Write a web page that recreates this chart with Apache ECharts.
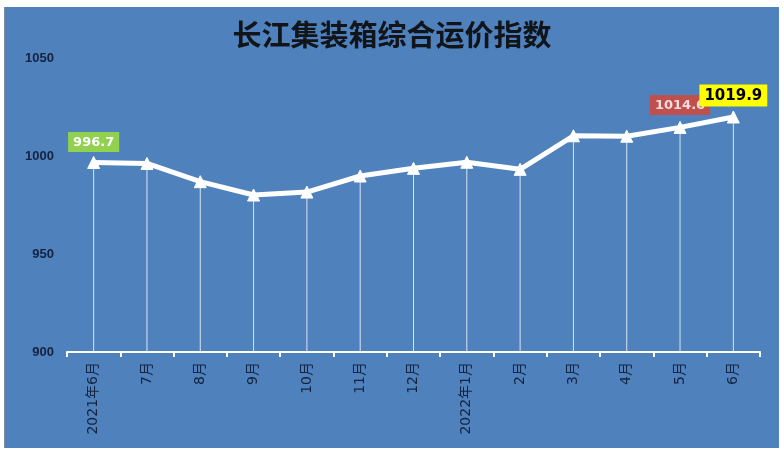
<!DOCTYPE html>
<html><head><meta charset="utf-8">
<script src="https://cdn.jsdelivr.net/npm/echarts@6/dist/echarts.min.js"></script>
<style>
html,body{margin:0;padding:0;background:#fff;width:784px;height:453px;overflow:hidden}
#wrap{position:absolute;left:4px;top:7px;width:774px;height:441px;background:#4F81BD;border-left:1px solid #7f8fa6}
#c{width:774px;height:441px}
</style></head><body>
<div id="wrap"><div id="c"></div></div>
<script>
var titleText = '长江集装箱综合运价指数';
var categories = ['2021年6月','7月','8月','9月','10月','11月','12月','2022年1月','2月','3月','4月','5月','6月'];
var values = [996.7, 996.2, 986.9, 980.1, 981.6, 989.8, 993.7, 996.8, 993.2, 1010.3, 1010.1, 1014.6, 1019.9];
var yTicks = [900, 950, 1000, 1050];
var highlighted = {0: 'green', 11: 'red', 12: 'yellow'};

var boxStyles = {
  green: {backgroundColor:'#92D050', color:'#ffffff', fontSize:13},
  red: {backgroundColor:'#C0504D', color:'#f6dcdc', fontSize:13},
  yellow: {backgroundColor:'#FFFF00', color:'#000000', fontSize:15}
};
var lineData = values.map(function(v, i){
  var d = {value: v};
  if (highlighted[i]) {
    var s = boxStyles[highlighted[i]];
    d.label = {show:true, position:'top', distance:highlighted[i]==='red'?6:4, formatter:'{c}',
      backgroundColor:s.backgroundColor, color:s.color, fontWeight:'bold',
      fontSize:s.fontSize, padding:[4,5,3,5], fontFamily:'DejaVu Sans'};
  }
  return d;
});

var chart = echarts.init(document.getElementById('c'));
chart.setOption({
  animation:false,
  title:{text:titleText, left:'center', top:8,
    textStyle:{fontSize:29, fontWeight:'bold', color:'#111418', fontFamily:'Noto Sans CJK SC'}},
  grid:{left:62, top:51, width:693, height:294, containLabel:false},
  xAxis:{type:'category', data:categories, boundaryGap:true,
    axisLine:{lineStyle:{color:'#ffffff', width:2}},
    axisTick:{show:true, length:5, lineStyle:{color:'#ffffff', width:2}},
    axisLabel:{rotate:90, margin:10, fontSize:14, color:'#14233f', fontFamily:'DejaVu Sans, Noto Sans CJK SC', interval:0},
    splitLine:{show:false}},
  yAxis:{type:'value', min:yTicks[0], max:yTicks[yTicks.length-1], interval:50,
    axisLine:{show:false}, axisTick:{show:false}, splitLine:{show:false},
    axisLabel:{margin:13, fontSize:13, fontWeight:'bold', color:'#14233f', fontFamily:'Liberation Sans',
      formatter:function(v){return String(v);}}},
  series:[
    {type:'bar', data:values, barWidth:1, itemStyle:{color:'rgba(230,240,252,0.9)'}, silent:true, z:1},
    {type:'line', data:lineData, symbol:'triangle', symbolSize:12,
      lineStyle:{color:'#ffffff', width:5},
      itemStyle:{color:'#ffffff', borderColor:'#ffffff'}, z:3}
  ]
});
</script>
</body></html>
